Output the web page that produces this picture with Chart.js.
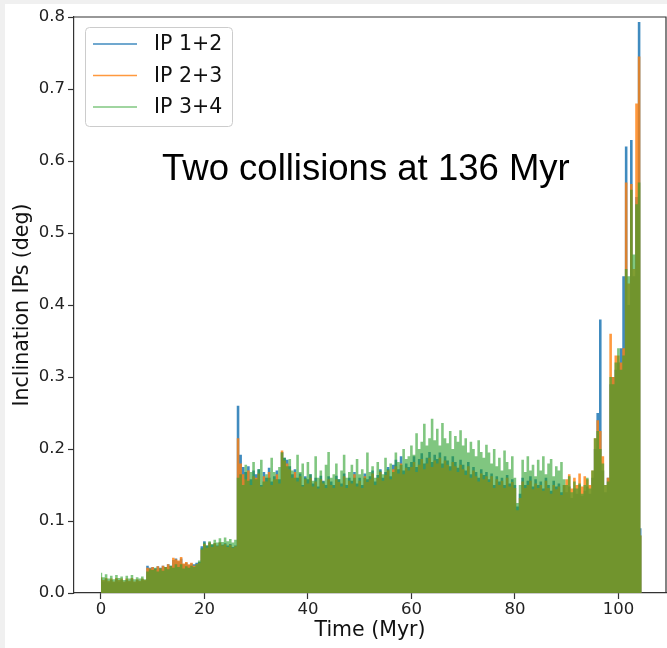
<!DOCTYPE html>
<html>
<head>
<meta charset="utf-8">
<script src="https://cdn.jsdelivr.net/npm/chart.js@4.4.1/dist/chart.umd.min.js"></script>
<style>
  html, body { margin: 0; padding: 0; background: #f0f0f0; }
  #wrap { width: 667px; height: 648px; }
</style>
</head>
<body>
<div id="wrap"><canvas id="chart" width="667" height="648"></canvas></div>
<script>
// sampled every 0.5 Myr from 0 to 104.5 Myr (upper edge of each noisy series)
const timeStep = 0.5

const ip12 = [
  0.020, 0.016, 0.019, 0.015, 0.018, 0.015, 0.019, 0.016, 0.018, 0.015,
  0.018, 0.016, 0.019, 0.015, 0.018, 0.016, 0.019, 0.017, 0.038, 0.035,
  0.036, 0.034, 0.037, 0.035, 0.038, 0.036, 0.040, 0.038, 0.046, 0.048,
  0.044, 0.048, 0.040, 0.042, 0.039, 0.041, 0.040, 0.042, 0.043, 0.065,
  0.072, 0.066, 0.070, 0.067, 0.069, 0.066, 0.070, 0.067, 0.069, 0.066,
  0.068, 0.064, 0.066, 0.260, 0.192, 0.175, 0.168, 0.176, 0.158, 0.170,
  0.165, 0.172, 0.150, 0.168, 0.160, 0.174, 0.155, 0.162, 0.170, 0.158,
  0.196, 0.188, 0.185, 0.176, 0.165, 0.172, 0.160, 0.166, 0.150, 0.162,
  0.158, 0.165, 0.152, 0.160, 0.148, 0.163, 0.156, 0.150, 0.162, 0.155,
  0.150, 0.163, 0.158, 0.152, 0.166, 0.150, 0.160, 0.156, 0.168, 0.152,
  0.160, 0.150, 0.166, 0.158, 0.162, 0.170, 0.155, 0.164, 0.172, 0.160,
  0.168, 0.175, 0.162, 0.178, 0.185, 0.172, 0.190, 0.170, 0.180, 0.175,
  0.182, 0.190, 0.175, 0.186, 0.194, 0.180, 0.188, 0.196, 0.182, 0.192,
  0.186, 0.195, 0.180, 0.190, 0.184, 0.176, 0.190, 0.182, 0.174, 0.185,
  0.178, 0.170, 0.182, 0.165, 0.175, 0.168, 0.160, 0.172, 0.164, 0.168,
  0.158, 0.166, 0.150, 0.162, 0.155, 0.160, 0.150, 0.164, 0.152, 0.158,
  0.150, 0.120, 0.138, 0.160, 0.150, 0.156, 0.162, 0.148, 0.158, 0.150,
  0.155, 0.145, 0.160, 0.150, 0.142, 0.156, 0.148, 0.152, 0.140, 0.150,
  0.140, 0.148, 0.132, 0.145, 0.138, 0.150, 0.135, 0.142, 0.148, 0.138,
  0.160, 0.200, 0.250, 0.380, 0.170, 0.140, 0.160, 0.290, 0.300, 0.310,
  0.320, 0.340, 0.440, 0.620, 0.400, 0.629, 0.440, 0.550, 0.793, 0.090
]

const ip23 = [
  0.022, 0.018, 0.021, 0.017, 0.020, 0.016, 0.021, 0.018, 0.020, 0.016,
  0.020, 0.017, 0.021, 0.016, 0.019, 0.017, 0.020, 0.018, 0.035, 0.034,
  0.036, 0.033, 0.037, 0.034, 0.038, 0.036, 0.040, 0.037, 0.049, 0.047,
  0.045, 0.050, 0.041, 0.043, 0.040, 0.042, 0.038, 0.040, 0.042, 0.060,
  0.068, 0.063, 0.070, 0.064, 0.069, 0.065, 0.070, 0.066, 0.068, 0.064,
  0.067, 0.063, 0.065, 0.215, 0.180, 0.165, 0.158, 0.170, 0.150, 0.162,
  0.160, 0.166, 0.148, 0.162, 0.155, 0.168, 0.150, 0.158, 0.165, 0.152,
  0.198, 0.184, 0.180, 0.172, 0.160, 0.168, 0.155, 0.162, 0.148, 0.158,
  0.152, 0.160, 0.148, 0.155, 0.145, 0.158, 0.152, 0.146, 0.158, 0.150,
  0.146, 0.158, 0.154, 0.148, 0.162, 0.146, 0.156, 0.152, 0.165, 0.148,
  0.156, 0.146, 0.162, 0.154, 0.158, 0.166, 0.150, 0.160, 0.168, 0.156,
  0.164, 0.170, 0.158, 0.172, 0.176, 0.166, 0.180, 0.165, 0.174, 0.170,
  0.175, 0.182, 0.168, 0.178, 0.186, 0.172, 0.180, 0.188, 0.175, 0.184,
  0.180, 0.188, 0.174, 0.184, 0.178, 0.170, 0.182, 0.176, 0.168, 0.178,
  0.172, 0.164, 0.176, 0.160, 0.170, 0.162, 0.155, 0.166, 0.158, 0.162,
  0.154, 0.162, 0.146, 0.158, 0.150, 0.156, 0.146, 0.160, 0.148, 0.154,
  0.146, 0.115, 0.132, 0.155, 0.146, 0.150, 0.156, 0.144, 0.152, 0.146,
  0.150, 0.142, 0.156, 0.146, 0.138, 0.150, 0.144, 0.148, 0.136, 0.150,
  0.158, 0.165, 0.145, 0.160, 0.150, 0.166, 0.148, 0.162, 0.158, 0.150,
  0.170, 0.215, 0.240, 0.225, 0.190, 0.150, 0.160, 0.360, 0.300, 0.330,
  0.330, 0.320, 0.340, 0.570, 0.430, 0.568, 0.450, 0.680, 0.745, 0.080
]

const ip34 = [
  0.028, 0.022, 0.026, 0.020, 0.024, 0.019, 0.025, 0.021, 0.023, 0.018,
  0.024, 0.020, 0.025, 0.019, 0.022, 0.020, 0.023, 0.019, 0.030, 0.033,
  0.032, 0.035, 0.030, 0.034, 0.031, 0.036, 0.033, 0.038, 0.035, 0.040,
  0.036, 0.040, 0.034, 0.037, 0.035, 0.038, 0.036, 0.040, 0.045, 0.062,
  0.070, 0.066, 0.072, 0.068, 0.074, 0.070, 0.076, 0.071, 0.077, 0.072,
  0.075, 0.070, 0.074, 0.160, 0.165, 0.150, 0.178, 0.156, 0.168, 0.182,
  0.158, 0.172, 0.185, 0.155, 0.165, 0.160, 0.188, 0.168, 0.158, 0.175,
  0.195, 0.188, 0.176, 0.186, 0.170, 0.160, 0.192, 0.168, 0.180, 0.160,
  0.182, 0.165, 0.156, 0.190, 0.160, 0.170, 0.155, 0.178, 0.196, 0.160,
  0.165, 0.180, 0.158, 0.170, 0.192, 0.160, 0.168, 0.178, 0.160, 0.186,
  0.165, 0.172, 0.160, 0.195, 0.168, 0.176, 0.160, 0.182, 0.170, 0.165,
  0.188, 0.172, 0.180, 0.168, 0.195, 0.182, 0.178, 0.200, 0.186, 0.190,
  0.205, 0.192, 0.222, 0.200, 0.210, 0.235, 0.205, 0.215, 0.242, 0.212,
  0.228, 0.205, 0.236, 0.215, 0.208, 0.225, 0.200, 0.218, 0.210, 0.226,
  0.205, 0.215, 0.195, 0.210, 0.200, 0.190, 0.212, 0.196, 0.188, 0.206,
  0.195, 0.180, 0.200, 0.176, 0.188, 0.170, 0.198, 0.182, 0.172, 0.190,
  0.160, 0.125, 0.150, 0.185, 0.168, 0.190, 0.170, 0.178, 0.162, 0.185,
  0.170, 0.190, 0.165, 0.180, 0.186, 0.162, 0.176, 0.170, 0.182, 0.158,
  0.150, 0.162, 0.140, 0.155, 0.145, 0.152, 0.138, 0.150, 0.160, 0.145,
  0.170, 0.215, 0.225, 0.200, 0.180, 0.150, 0.155, 0.300, 0.290, 0.320,
  0.340, 0.310, 0.330, 0.450, 0.440, 0.560, 0.470, 0.540, 0.570, 0.080
]

const seriesNames = ['IP 1+2', 'IP 2+3', 'IP 3+4']
const seriesColors = ['rgba(31,119,180,0.85)', 'rgba(255,127,14,0.8)', 'rgba(44,160,44,0.6)']
const xTicks = [0, 20, 40, 60, 80, 100]
const yTicks = [0, 0.1, 0.2, 0.3, 0.4, 0.5, 0.6, 0.7, 0.8]
const noteText = 'Two collisions at 136 Myr'

const toPoints = vals => vals.map((v, i) => ({ x: i * timeStep, y: v }))

const makeSet = (i, vals) => ({
  label: seriesNames[i],
  data: toPoints(vals),
  borderColor: 'rgba(0,0,0,0)',
  backgroundColor: seriesColors[i],
  borderWidth: 0,
  fill: 'origin',
  stepped: 'middle',
  pointRadius: 0,
  order: 3 - i
})

const frame = {
  id: 'frame',
  beforeDraw(chart) {
    const c = chart.ctx
    c.save()
    c.fillStyle = '#f0f0f0'
    c.fillRect(0, 0, chart.width, chart.height)
    c.fillStyle = '#ffffff'
    c.fillRect(5, 4, chart.width - 5, chart.height - 4)
    c.restore()
  },
  afterDraw(chart) {
    const c = chart.ctx
    const a = chart.chartArea
    c.save()
    c.strokeStyle = '#333'
    c.lineWidth = 1.2
    c.beginPath()
    c.moveTo(a.left, a.top)
    c.lineTo(a.right, a.top)
    c.lineTo(a.right, a.bottom)
    c.stroke()

    // legend box
    c.fillStyle = 'rgba(255,255,255,0.85)'
    c.strokeStyle = '#cccccc'
    c.lineWidth = 1
    c.beginPath()
    c.roundRect(85.5, 27.5, 147, 99, 4)
    c.fill()
    c.stroke()
    c.font = '20.5px "DejaVu Sans"'
    c.textBaseline = 'middle'
    const rows = [44, 75.5, 107]
    seriesNames.forEach((name, i) => {
      c.strokeStyle = seriesColors[i]
      c.lineWidth = 1.6
      c.beginPath()
      c.moveTo(93, rows[i])
      c.lineTo(137, rows[i])
      c.stroke()
      c.fillStyle = '#111'
      c.fillText(name, 154, rows[i] + 1)
    })

    // annotation
    c.font = '36.5px "Liberation Sans", Arial, sans-serif'
    c.textBaseline = 'alphabetic'
    c.fillStyle = '#000'
    c.fillText(noteText, 162, 180)
    c.restore()
  }
}

new Chart(document.getElementById('chart'), {
  type: 'line',
  data: {
    datasets: [makeSet(0, ip12), makeSet(1, ip23), makeSet(2, ip34)]
  },
  options: {
    responsive: false,
    animation: false,
    layout: { padding: { top: 17, right: 1, left: 0, bottom: 0 } },
    plugins: {
      legend: { display: false },
      tooltip: { enabled: false }
    },
    scales: {
      x: {
        type: 'linear',
        min: -5.2,
        max: 109.2,
        afterBuildTicks: s => { s.ticks = xTicks.map(v => ({ value: v })) },
        afterFit: s => { s.height = 55 },
        grid: { drawOnChartArea: false, drawTicks: true, tickLength: 6, tickColor: '#333', tickWidth: 1.2 },
        border: { display: true, color: '#333', width: 1.2 },
        ticks: { color: '#222', font: { family: 'DejaVu Sans', size: 16.5 }, padding: 1, maxRotation: 0 },
        title: { display: true, text: 'Time (Myr)', color: '#111', font: { family: 'DejaVu Sans', size: 20.5 }, padding: { top: 0, bottom: 5 } }
      },
      y: {
        type: 'linear',
        min: 0,
        max: 0.8,
        afterBuildTicks: s => { s.ticks = yTicks.map(v => ({ value: v })) },
        afterFit: s => { s.width = 74 },
        grid: { drawOnChartArea: false, drawTicks: true, tickLength: 6, tickColor: '#333', tickWidth: 1.2 },
        border: { display: true, color: '#333', width: 1.2 },
        ticks: { color: '#222', font: { family: 'DejaVu Sans', size: 16.5 }, padding: 3, callback: v => v.toFixed(1) },
        title: { display: true, text: 'Inclination IPs (deg)', color: '#111', font: { family: 'DejaVu Sans', size: 20.5 }, padding: { top: 10, bottom: 0 } }
      }
    }
  },
  plugins: [frame]
})
</script>
</body>
</html>
